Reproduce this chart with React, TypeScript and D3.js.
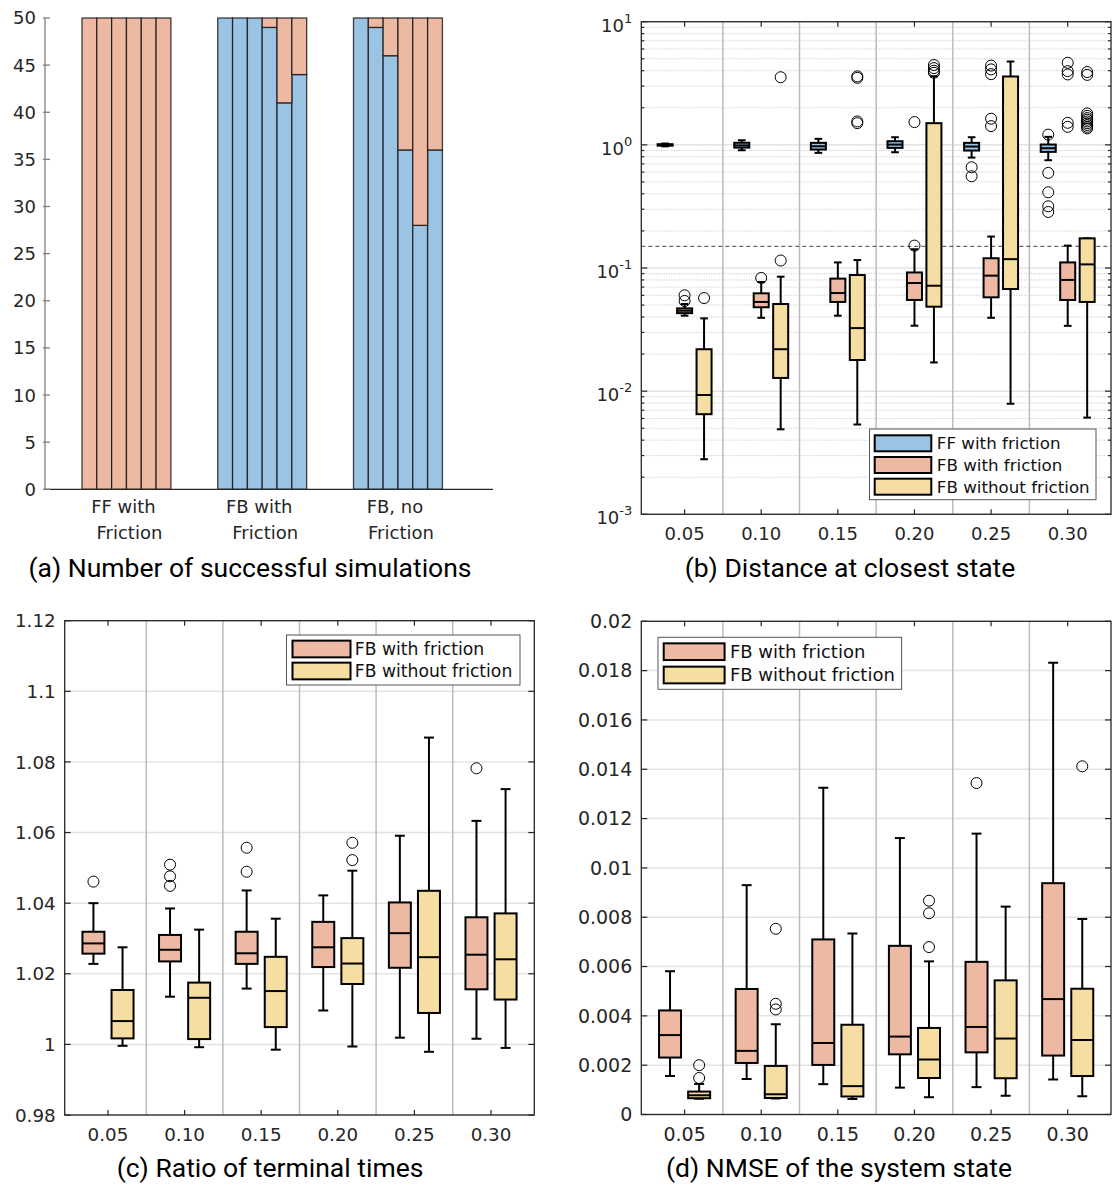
import React, { useEffect, useRef } from 'react';
import * as d3 from 'd3';

const WIDTH = 1115;
const HEIGHT = 1185;

const TICK_FONT = "'DejaVu Sans', Verdana, sans-serif";
const TITLE_FONT = "Roboto, 'Noto Sans', sans-serif";
const AXIS_COLOR = '#262626';

const BLUE = '#9BC4E4';
const SALMON = '#EDB9A3';
const YELLOW = '#F6DEA2';

// ---- (a) number of successful simulations ----
const barGroupLabels = [['FF with', 'Friction'], ['FB with', 'Friction'], ['FB, no', 'Friction']];
const barBlueCounts = [
  [0, 0, 0, 0, 0, 0],
  [50, 50, 50, 49, 41, 44],
  [50, 49, 46, 36, 28, 36],
];
const barSalmonCounts = [
  [50, 50, 50, 50, 50, 50],
  [0, 0, 0, 1, 9, 6],
  [0, 1, 4, 14, 22, 14],
];
const barTicks = [0, 5, 10, 15, 20, 25, 30, 35, 40, 45, 50];

// ---- shared box plot categories ----
const frictionLevels = ['0.05', '0.10', '0.15', '0.20', '0.25', '0.30'];

// ---- (b) distance at closest state, [lowWhisker, q1, median, q3, highWhisker] ----
const distFF = [
  [0.972, 0.985, 1.0, 1.012, 1.025],
  [0.904, 0.95, 0.99, 1.04, 1.09],
  [0.861, 0.916, 0.974, 1.038, 1.119],
  [0.871, 0.945, 1.005, 1.07, 1.153],
  [0.788, 0.899, 0.969, 1.038, 1.153],
  [0.75, 0.877, 0.939, 1.006, 1.161],
];
const distFFOutliers = [[], [], [], [], [0.658, 0.556], [1.21, 0.592, 0.412, 0.317, 0.285]];
const distFB = [
  [0.041, 0.043, 0.045, 0.047, 0.051],
  [0.0394, 0.048, 0.053, 0.0623, 0.077],
  [0.041, 0.053, 0.0626, 0.082, 0.111],
  [0.034, 0.055, 0.0755, 0.092, 0.142],
  [0.0394, 0.0578, 0.0867, 0.12, 0.18],
  [0.0339, 0.055, 0.08, 0.111, 0.152],
];
const distFBOutliers = [
  [0.054, 0.06],
  [0.083],
  [],
  [0.152, 1.53],
  [4.4, 4.1, 3.75, 1.63, 1.42],
  [4.64, 3.97, 3.73, 1.51, 1.4],
];
const distNF = [
  [0.0028, 0.0065, 0.0093, 0.0219, 0.039],
  [0.0049, 0.0128, 0.0219, 0.051, 0.085],
  [0.00536, 0.0179, 0.0325, 0.0877, 0.116],
  [0.0171, 0.0485, 0.0718, 1.5, 3.6],
  [0.0079, 0.0675, 0.118, 3.59, 4.75],
  [0.0061, 0.053, 0.107, 0.174, 0.174],
];
const distNFOutliers = [
  [0.057],
  [0.115, 3.54],
  [1.5, 1.55, 3.5, 3.6],
  [3.85, 4.0, 4.2, 4.45],
  [],
  [3.9, 3.7, 1.8, 1.72, 1.65, 1.6, 1.55, 1.5, 1.45, 1.4, 1.36],
];
const distThreshold = 0.15;
const distTicks = [1e-3, 1e-2, 1e-1, 1, 10];
const distTickExponents = ['-3', '-2', '-1', '0', '1'];

// ---- (c) ratio of terminal times ----
const ratioFB = [
  [1.0228, 1.0257, 1.0286, 1.0319, 1.04],
  [1.0135, 1.0235, 1.0268, 1.031, 1.0385],
  [1.0158, 1.0228, 1.0258, 1.0319, 1.0436],
  [1.0096, 1.0219, 1.0275, 1.0347, 1.0422],
  [1.0019, 1.0217, 1.0315, 1.0402, 1.0591],
  [1.0016, 1.0156, 1.0254, 1.036, 1.0633],
];
const ratioFBOutliers = [[1.0461], [1.0509, 1.0476, 1.0449], [1.0557, 1.0489], [], [], [1.0782]];
const ratioNF = [
  [0.9996, 1.0017, 1.0066, 1.0154, 1.0275],
  [0.9992, 1.0015, 1.0132, 1.0175, 1.0325],
  [0.9985, 1.0049, 1.0151, 1.0248, 1.0356],
  [0.9994, 1.0171, 1.0229, 1.0301, 1.0492],
  [0.9979, 1.0089, 1.0247, 1.0435, 1.0869],
  [0.999, 1.0127, 1.0241, 1.0371, 1.0723],
];
const ratioNFOutliers = [[], [], [], [1.0571, 1.0522], [], []];
const ratioTicks = [0.98, 1, 1.02, 1.04, 1.06, 1.08, 1.1, 1.12];
const ratioTickLabels = ['0.98', '1', '1.02', '1.04', '1.06', '1.08', '1.1', '1.12'];

// ---- (d) NMSE of the system state ----
const nmseFB = [
  [0.00156, 0.00231, 0.00322, 0.00422, 0.00581],
  [0.00144, 0.00209, 0.00258, 0.00509, 0.0093],
  [0.00123, 0.00201, 0.0029, 0.0071, 0.01325],
  [0.00109, 0.00244, 0.00316, 0.00684, 0.01121],
  [0.00111, 0.00252, 0.00355, 0.00619, 0.01139],
  [0.00142, 0.00239, 0.00468, 0.00938, 0.01832],
];
const nmseFBOutliers = [[], [], [], [], [0.01344], []];
const nmseNF = [
  [0.00064, 0.00066, 0.00078, 0.00093, 0.00124],
  [0.00065, 0.00067, 0.00082, 0.00197, 0.00366],
  [0.00063, 0.00073, 0.00115, 0.00364, 0.00734],
  [0.0007, 0.00148, 0.00223, 0.00351, 0.00621],
  [0.00076, 0.00147, 0.00308, 0.00544, 0.00843],
  [0.00074, 0.00156, 0.00302, 0.0051, 0.00793],
];
const nmseNFOutliers = [[0.002, 0.00148], [0.00753, 0.00449, 0.00426], [], [0.00867, 0.00816, 0.00679], [], [0.01412]];
const nmseTicks = [0, 0.002, 0.004, 0.006, 0.008, 0.01, 0.012, 0.014, 0.016, 0.018, 0.02];
const nmseTickLabels = ['0', '0.002', '0.004', '0.006', '0.008', '0.01', '0.012', '0.014', '0.016', '0.018', '0.02'];

function drawTitle(svg, text, cx, baseline) {
  svg.append('text')
    .attr('x', cx)
    .attr('y', baseline)
    .attr('text-anchor', 'middle')
    .attr('font-family', TITLE_FONT)
    .attr('font-size', 26.5)
    .attr('fill', '#000')
    .text(text);
}

function drawLegend(svg, cfg) {
  const { left, top, width, height, rows, fontSize, patchX0, patchX1, textX, rowY0, rowStep, patchH } = cfg;
  const g = svg.append('g');
  g.append('rect')
    .attr('x', left).attr('y', top).attr('width', width).attr('height', height)
    .attr('fill', '#fff').attr('stroke', '#555').attr('stroke-width', 1);
  rows.forEach((r, i) => {
    const cy = rowY0 + i * rowStep;
    g.append('rect')
      .attr('x', left + patchX0).attr('y', cy - patchH / 2)
      .attr('width', patchX1 - patchX0).attr('height', patchH)
      .attr('fill', r.color).attr('stroke', '#000').attr('stroke-width', 2);
    g.append('text')
      .attr('x', left + textX).attr('y', cy)
      .attr('dy', '0.36em')
      .attr('font-family', TICK_FONT).attr('font-size', fontSize)
      .attr('fill', '#111')
      .text(r.label);
  });
}

function drawBoxPanel(svg, cfg) {
  const { left, right, top, bottom, y, series, boxW, capW, tickFont, minorTicks, drawTickLabel, yTicks } = cfg;
  const g = svg.append('g');
  const n = frictionLevels.length;
  const x = d3.scaleLinear().domain([-0.565, n - 1 + 0.565]).range([left, right]);
  const step = x(1) - x(0);

  // minor dotted grid (log panel)
  if (minorTicks) {
    g.append('g').selectAll('line').data(minorTicks).join('line')
      .attr('x1', left).attr('x2', right)
      .attr('y1', d => y(d)).attr('y2', d => y(d))
      .attr('stroke', '#b8b8b8').attr('stroke-width', 0.8)
      .attr('stroke-dasharray', '1,1.5');
  }
  // major grid
  g.append('g').selectAll('line').data(yTicks).join('line')
    .attr('x1', left).attr('x2', right)
    .attr('y1', d => y(d)).attr('y2', d => y(d))
    .attr('stroke', '#e3e3e3').attr('stroke-width', 1.5);
  // group separators
  g.append('g').selectAll('line').data(d3.range(1, n)).join('line')
    .attr('x1', d => x(d - 0.5)).attr('x2', d => x(d - 0.5))
    .attr('y1', top).attr('y2', bottom)
    .attr('stroke', '#bcbcbc').attr('stroke-width', 1.5);

  if (cfg.threshold !== undefined) {
    g.append('line')
      .attr('x1', left).attr('x2', right)
      .attr('y1', y(cfg.threshold)).attr('y2', y(cfg.threshold))
      .attr('stroke', '#444').attr('stroke-width', 1)
      .attr('stroke-dasharray', '4,3');
  }

  // boxes
  series.forEach(s => {
    const sg = g.append('g');
    const cx = (i: number) => x(i + s.offset);
    const items = s.stats.map((st, i) => ({ st, i }));
    // whiskers
    sg.selectAll('line.wu').data(items).join('line').attr('class', 'wu')
      .attr('x1', d => cx(d.i)).attr('x2', d => cx(d.i))
      .attr('y1', d => y(d.st[3])).attr('y2', d => y(d.st[4]))
      .attr('stroke', '#000').attr('stroke-width', 2);
    sg.selectAll('line.wl').data(items).join('line').attr('class', 'wl')
      .attr('x1', d => cx(d.i)).attr('x2', d => cx(d.i))
      .attr('y1', d => y(d.st[1])).attr('y2', d => y(d.st[0]))
      .attr('stroke', '#000').attr('stroke-width', 2);
    // caps
    sg.selectAll('line.cu').data(items).join('line').attr('class', 'cu')
      .attr('x1', d => cx(d.i) - (capW * step) / 2).attr('x2', d => cx(d.i) + (capW * step) / 2)
      .attr('y1', d => y(d.st[4])).attr('y2', d => y(d.st[4]))
      .attr('stroke', '#000').attr('stroke-width', 2);
    sg.selectAll('line.cl').data(items).join('line').attr('class', 'cl')
      .attr('x1', d => cx(d.i) - (capW * step) / 2).attr('x2', d => cx(d.i) + (capW * step) / 2)
      .attr('y1', d => y(d.st[0])).attr('y2', d => y(d.st[0]))
      .attr('stroke', '#000').attr('stroke-width', 2);
    // box
    sg.selectAll('rect').data(items).join('rect')
      .attr('x', d => cx(d.i) - (boxW * step) / 2)
      .attr('width', boxW * step)
      .attr('y', d => y(d.st[3]))
      .attr('height', d => Math.max(1, y(d.st[1]) - y(d.st[3])))
      .attr('fill', s.color).attr('stroke', '#000').attr('stroke-width', 2);
    // median
    sg.selectAll('line.md').data(items).join('line').attr('class', 'md')
      .attr('x1', d => cx(d.i) - (boxW * step) / 2).attr('x2', d => cx(d.i) + (boxW * step) / 2)
      .attr('y1', d => y(d.st[2])).attr('y2', d => y(d.st[2]))
      .attr('stroke', '#000').attr('stroke-width', 2);
    // outliers
    const outs = s.outliers.flatMap((vals, i) => vals.map(v => ({ i, v })));
    sg.selectAll('circle').data(outs).join('circle')
      .attr('cx', d => cx(d.i)).attr('cy', d => y(d.v))
      .attr('r', 5.5)
      .attr('fill', 'none').attr('stroke', '#000').attr('stroke-width', 1);
  });

  // axes frame
  g.append('rect')
    .attr('x', left).attr('y', top).attr('width', right - left).attr('height', bottom - top)
    .attr('fill', 'none').attr('stroke', AXIS_COLOR).attr('stroke-width', 1.3);

  // category ticks top & bottom
  const catTicks = g.append('g').attr('stroke', AXIS_COLOR).attr('stroke-width', 1.2);
  frictionLevels.forEach((_, i) => {
    catTicks.append('line').attr('x1', x(i)).attr('x2', x(i)).attr('y1', bottom).attr('y2', bottom - 5);
    catTicks.append('line').attr('x1', x(i)).attr('x2', x(i)).attr('y1', top).attr('y2', top + 5);
  });
  // y ticks left & right
  yTicks.forEach(v => {
    catTicks.append('line').attr('x1', left).attr('x2', left + 6).attr('y1', y(v)).attr('y2', y(v));
    catTicks.append('line').attr('x1', right).attr('x2', right - 6).attr('y1', y(v)).attr('y2', y(v));
  });
  if (minorTicks) {
    minorTicks.forEach(v => {
      catTicks.append('line').attr('x1', left).attr('x2', left + 3).attr('y1', y(v)).attr('y2', y(v));
      catTicks.append('line').attr('x1', right).attr('x2', right - 3).attr('y1', y(v)).attr('y2', y(v));
    });
  }

  // category labels
  g.append('g').selectAll('text').data(frictionLevels).join('text')
    .attr('x', (d, i) => x(i)).attr('y', bottom + 26)
    .attr('text-anchor', 'middle')
    .attr('font-family', TICK_FONT).attr('font-size', tickFont)
    .attr('fill', AXIS_COLOR)
    .text(d => d);

  // y tick labels
  yTicks.forEach((v, i) => drawTickLabel(g, left - 9, y(v), i));
}

const App = () => {
  const svgRef = useRef(null);

  useEffect(() => {
    const svg = d3.select(svgRef.current);
    svg.selectAll('*').remove();

    // ================= (a) =================
    const aLeft = 45, aRight = 493, aTop = 18, aBottom = 489.3;
    const ax = d3.scaleLinear().domain([0.4, 3.7]).range([aLeft, aRight]);
    const ay = d3.scaleLinear().domain([0, 50]).range([aBottom, aTop]);
    const groupW = 0.655;
    const barW = groupW / 6;
    const bars = barBlueCounts.flatMap((grp, gi) => grp.map((b, bi) => ({
      gi, bi, blue: b, salmon: barSalmonCounts[gi][bi],
    })));
    const barX = d => ax(gi2x(d.gi) - groupW / 2 + d.bi * barW);
    function gi2x(gi) { return gi + 1; }
    const ag = svg.append('g');
    ag.selectAll('rect.blue').data(bars.filter(d => d.blue > 0)).join('rect').attr('class', 'blue')
      .attr('x', barX).attr('width', ax(barW) - ax(0))
      .attr('y', d => ay(d.blue)).attr('height', d => ay(0) - ay(d.blue))
      .attr('fill', BLUE).attr('stroke', '#111').attr('stroke-opacity', 0.8).attr('stroke-width', 1.3);
    ag.selectAll('rect.salmon').data(bars.filter(d => d.salmon > 0)).join('rect').attr('class', 'salmon')
      .attr('x', barX).attr('width', ax(barW) - ax(0))
      .attr('y', d => ay(d.blue + d.salmon)).attr('height', d => ay(d.blue) - ay(d.blue + d.salmon))
      .attr('fill', SALMON).attr('stroke', '#111').attr('stroke-opacity', 0.8).attr('stroke-width', 1.3);

    ag.append('line').attr('x1', aLeft).attr('x2', aLeft).attr('y1', aTop).attr('y2', aBottom)
      .attr('stroke', '#808080').attr('stroke-width', 1.3);
    ag.append('line').attr('x1', aLeft).attr('x2', aRight).attr('y1', aBottom).attr('y2', aBottom)
      .attr('stroke', AXIS_COLOR).attr('stroke-width', 1.3);
    ag.append('g').selectAll('line').data(barTicks).join('line')
      .attr('x1', aLeft - 2).attr('x2', aLeft + 5)
      .attr('y1', d => ay(d)).attr('y2', d => ay(d))
      .attr('stroke', '#808080').attr('stroke-width', 1.3);
    ag.append('g').selectAll('text').data(barTicks).join('text')
      .attr('x', aLeft - 9).attr('y', d => ay(d)).attr('dy', '0.36em')
      .attr('text-anchor', 'end')
      .attr('font-family', TICK_FONT).attr('font-size', 18).attr('fill', AXIS_COLOR)
      .text(d => d);
    barGroupLabels.forEach((lines, gi) => {
      lines.forEach((line, li) => {
        ag.append('text')
          .attr('x', ax(gi2x(gi)) + (li === 0 ? -3 : 3)).attr('y', aBottom + 24 + li * 26)
          .attr('text-anchor', 'middle')
          .attr('font-family', TICK_FONT).attr('font-size', 18).attr('fill', AXIS_COLOR)
          .text(line);
      });
    });
    drawTitle(svg, '(a) Number of successful simulations', 250, 577);

    // ================= (b) =================
    const bTop = 21.7, bBottom = 514.3;
    const by = d3.scaleLog().domain([1e-3, 10]).range([bBottom, bTop]);
    const minor = [];
    [-3, -2, -1, 0].forEach(k => { for (let m = 2; m <= 9; m++) minor.push(m * Math.pow(10, k)); });
    drawBoxPanel(svg, {
      left: 641.3, right: 1111, top: bTop, bottom: bBottom, y: by,
      boxW: 0.196, capW: 0.1, tickFont: 18, minorTicks: minor, yTicks: distTicks,
      threshold: distThreshold,
      series: [
        { stats: distFF, outliers: distFFOutliers, color: BLUE, offset: -0.254 },
        { stats: distFB, outliers: distFBOutliers, color: SALMON, offset: 0 },
        { stats: distNF, outliers: distNFOutliers, color: YELLOW, offset: 0.254 },
      ],
      drawTickLabel: (g, xx, yy, i) => {
        const t = g.append('text')
          .attr('x', xx).attr('y', yy + 10)
          .attr('text-anchor', 'end')
          .attr('font-family', TICK_FONT).attr('font-size', 18).attr('fill', AXIS_COLOR);
        t.append('tspan').text('10');
        t.append('tspan').attr('dy', -9).attr('font-size', 13).text(distTickExponents[i]);
      },
    });
    drawLegend(svg, {
      left: 869.5, top: 429, width: 226.5, height: 70.7, fontSize: 16.7,
      patchX0: 5.2, patchX1: 61.8, textX: 67.3, rowY0: 443.3, rowStep: 21.7, patchH: 16,
      rows: [
        { label: 'FF with friction', color: BLUE },
        { label: 'FB with friction', color: SALMON },
        { label: 'FB without friction', color: YELLOW },
      ],
    });
    drawTitle(svg, '(b) Distance at closest state', 850, 577);

    // ================= (c) =================
    const cy = d3.scaleLinear().domain([0.98, 1.12]).range([1115, 620.7]);
    drawBoxPanel(svg, {
      left: 64.7, right: 534.3, top: 620.7, bottom: 1115, y: cy,
      boxW: 0.287, capW: 0.13, tickFont: 18.3, yTicks: ratioTicks,
      series: [
        { stats: ratioFB, outliers: ratioFBOutliers, color: SALMON, offset: -0.19 },
        { stats: ratioNF, outliers: ratioNFOutliers, color: YELLOW, offset: 0.19 },
      ],
      drawTickLabel: (g, xx, yy, i) => {
        g.append('text')
          .attr('x', xx).attr('y', yy).attr('dy', '0.36em')
          .attr('text-anchor', 'end')
          .attr('font-family', TICK_FONT).attr('font-size', 18.3).attr('fill', AXIS_COLOR)
          .text(ratioTickLabels[i]);
      },
    });
    drawLegend(svg, {
      left: 286.5, top: 635, width: 233.5, height: 50, fontSize: 17.2,
      patchX0: 6, patchX1: 64, textX: 68.3, rowY0: 649, rowStep: 22, patchH: 16.7,
      rows: [
        { label: 'FB with friction', color: SALMON },
        { label: 'FB without friction', color: YELLOW },
      ],
    });
    drawTitle(svg, '(c) Ratio of terminal times', 270, 1177);

    // ================= (d) =================
    const dy = d3.scaleLinear().domain([0, 0.02]).range([1114.5, 621.3]);
    drawBoxPanel(svg, {
      left: 641.3, right: 1111, top: 621.3, bottom: 1114.5, y: dy,
      boxW: 0.287, capW: 0.13, tickFont: 19, yTicks: nmseTicks,
      series: [
        { stats: nmseFB, outliers: nmseFBOutliers, color: SALMON, offset: -0.19 },
        { stats: nmseNF, outliers: nmseNFOutliers, color: YELLOW, offset: 0.19 },
      ],
      drawTickLabel: (g, xx, yy, i) => {
        g.append('text')
          .attr('x', xx).attr('y', yy).attr('dy', '0.36em')
          .attr('text-anchor', 'end')
          .attr('font-family', TICK_FONT).attr('font-size', 19).attr('fill', AXIS_COLOR)
          .text(nmseTickLabels[i]);
      },
    });
    drawLegend(svg, {
      left: 658, top: 637.3, width: 243.6, height: 52, fontSize: 18,
      patchX0: 5.7, patchX1: 66.6, textX: 71.9, rowY0: 651.7, rowStep: 23.3, patchH: 16.7,
      rows: [
        { label: 'FB with friction', color: SALMON },
        { label: 'FB without friction', color: YELLOW },
      ],
    });
    drawTitle(svg, '(d) NMSE of the system state', 839, 1177);
  }, []);

  return (
    <div style={{ position: 'absolute', left: 0, top: 0, width: WIDTH, height: HEIGHT, background: '#fff' }}>
      <svg ref={svgRef} width={WIDTH} height={HEIGHT} style={{ display: 'block' }} />
    </div>
  );
};

export default App;
